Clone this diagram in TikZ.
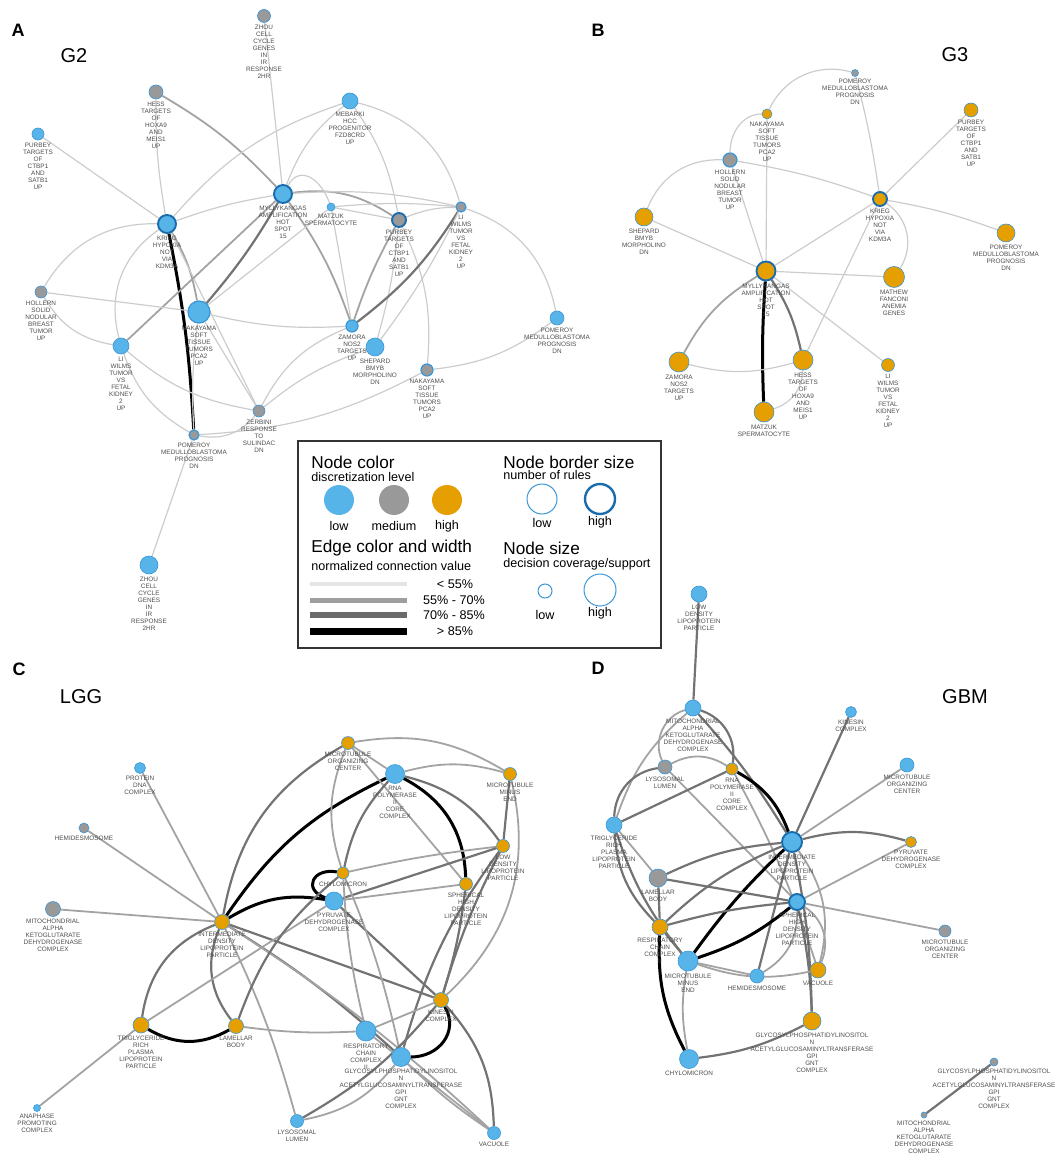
\documentclass[tikz,border=0pt]{standalone}
\usepackage{fontspec}
\setmainfont{Liberation Sans}
\usetikzlibrary{positioning}
\pgfdeclarelayer{background}
\pgfsetlayers{background,main}
\definecolor{lowblue}{HTML}{56B4E9}
\definecolor{midgray}{HTML}{999999}
\definecolor{highorange}{HTML}{E69F00}
\definecolor{rimblue}{HTML}{3A96D6}
\definecolor{rimdark}{HTML}{1A6DAD}
\definecolor{lbltext}{HTML}{4D4D4D}
\definecolor{edgelight}{HTML}{CCCCCC}
\definecolor{edgemid}{HTML}{A3A3A3}
\definecolor{edgedark}{HTML}{737373}
\newcommand{\lblfont}{\fontsize{3.2}{3.5}\selectfont}
% vertex with its label underneath
\newcommand{\vnode}[5]{%
  \node (#1) at (#2) [vtx,#3,minimum size=#4pt] {};
  \node (#1_l) [lbl,below=1pt of #1] {#5};}
\tikzset{
  vtx/.style={circle,inner sep=0pt,draw=rimblue,line width=0.3pt},
  lo/.style={fill=lowblue}, me/.style={fill=midgray}, hi/.style={fill=highorange},
  rim2/.style={draw=rimblue,line width=0.6pt},
  rim3/.style={draw=rimdark,line width=0.95pt},
  lbl/.style={font=\lblfont,text=lbltext,align=center,inner sep=0pt},
  e1/.style={draw=edgelight,line width=0.6pt},
  e2/.style={draw=edgemid,line width=0.9pt},
  e3/.style={draw=edgedark,line width=1.1pt},
  e4/.style={draw=black,line width=1.5pt},
  panel/.style={font=\bfseries\fontsize{9}{10}\selectfont,inner sep=0pt},
  cohort/.style={font=\fontsize{10}{12}\selectfont,inner sep=0pt},
  lgtitle/.style={font=\fontsize{8.6}{10}\selectfont,anchor=west,inner sep=0pt},
  lgsub/.style={font=\fontsize{6.3}{7.5}\selectfont,anchor=west,inner sep=0pt},
  lgtext/.style={font=\fontsize{6.3}{7.5}\selectfont,inner sep=0pt},
}
\begin{document}
\begin{tikzpicture}[x=0.5pt,y=-0.5pt,line cap=round]
\useasboundingbox (0,0) rectangle (1056,1154);
%% panel A
\node[panel] (A_tag) at (18,30) {A};
\node[cohort] (A_name) at (74,56) {G2};
\vnode{a_zhou1}{264,16}{me}{6.5}{ZHOU\\CELL\\CYCLE\\GENES\\IN\\IR\\RESPONSE\\2HR}
\vnode{a_hess}{156,92}{me}{7}{HESS\\TARGETS\\OF\\HOXA9\\AND\\MEIS1\\UP}
\vnode{a_purbey1}{38,134}{lo}{6}{PURBEY\\TARGETS\\OF\\CTBP1\\AND\\SATB1\\UP}
\vnode{a_mebarki}{350,101}{lo}{8}{MEBARKI\\HCC\\PROGENITOR\\FZD8CRD\\UP}
\vnode{a_mylly}{283,194}{lo,rim3}{9}{MYLLYKANGAS\\AMPLIFICATION\\HOT\\SPOT\\15}
\vnode{a_krieg}{167,224}{lo,rim3}{9}{KRIEG\\HYPOXIA\\NOT\\VIA\\KDM3A}
\vnode{a_matzuk}{331,207}{lo}{4}{MATZUK\\SPERMATOCYTE}
\vnode{a_purbey2}{399,220}{me,rim3}{7}{PURBEY\\TARGETS\\OF\\CTBP1\\AND\\SATB1\\UP}
\vnode{a_li1}{461,207}{me,rim2}{5}{LI\\WILMS\\TUMOR\\VS\\FETAL\\KIDNEY\\2\\UP}
\vnode{a_hollern}{41,292}{me}{6}{HOLLERN\\SOLID\\NODULAR\\BREAST\\TUMOR\\UP}
\vnode{a_nakayama1}{199,312}{lo,rim2}{11}{NAKAYAMA\\SOFT\\TISSUE\\TUMORS\\PCA2\\UP}
\vnode{a_li2}{121,346}{lo}{8}{LI\\WILMS\\TUMOR\\VS\\FETAL\\KIDNEY\\2\\UP}
\vnode{a_zamora}{352,326}{lo,rim2}{6}{ZAMORA\\NOS2\\TARGETS\\UP}
\vnode{a_shepard}{375,347}{lo}{9}{SHEPARD\\BMYB\\MORPHOLINO\\DN}
\vnode{a_nakayama2}{427,370}{me,rim2}{6}{NAKAYAMA\\SOFT\\TISSUE\\TUMORS\\PCA2\\UP}
\vnode{a_pomeroy1}{557,318}{lo}{7}{POMEROY\\MEDULLOBLASTOMA\\PROGNOSIS\\DN}
\vnode{a_zerbini}{259,411}{me}{6}{ZERBINI\\RESPONSE\\TO\\SULINDAC\\DN}
\vnode{a_pomeroy2}{194,435}{me,rim2}{5}{POMEROY\\MEDULLOBLASTOMA\\PROGNOSIS\\DN}
\vnode{a_zhou2}{149,565}{lo}{9}{ZHOU\\CELL\\CYCLE\\GENES\\IN\\IR\\RESPONSE\\2HR}
\begin{pgfonlayer}{background}
\draw[e1] (a_zhou1) -- (a_mylly);
\draw[e2] (a_hess) to[bend left=8] (a_mylly);
\draw[e1] (a_hess) to[bend right=5] (a_krieg);
\draw[e1] (a_purbey1) -- (a_krieg);
\draw[e1] (a_krieg) to[bend left=5] (a_mylly);
\draw[e1] (a_krieg) to[bend left=15] (a_mebarki);
\draw[e4] (a_krieg) to[bend left=4] (a_pomeroy2);
\draw[e1] (a_krieg) to[bend right=30] (a_hollern);
\draw[e1] (a_krieg) to[bend right=35] (a_li2);
\draw[e2] (a_krieg) to[bend left=10] (a_nakayama1);
\draw[e1] (a_krieg) -- (a_zerbini);
\draw[e3] (a_mylly) to[bend left=5] (a_nakayama1);
\draw[e2] (a_mylly) -- (a_li2);
\draw[e2] (a_mylly) to[bend left=20] (a_purbey2);
\draw[e2] (a_mylly) to[bend left=8] (a_zamora);
\draw[e1] (a_mylly) to[bend left=15] (a_mebarki);
\draw[e1] (a_mylly) to[out=60,in=110,looseness=1.4] (a_matzuk);
\draw[e1] (a_mylly) to[bend left=8] (a_li1);
\draw[e1] (a_mebarki) to[bend left=12] (a_purbey2);
\draw[e1] (a_mebarki) to[bend left=30] (a_li1);
\draw[e1] (a_matzuk) -- (a_nakayama1);
\draw[e1] (a_matzuk) -- (a_purbey2);
\draw[e1] (a_matzuk) to[bend left=5] (a_li1);
\draw[e1] (a_matzuk) -- (a_zamora);
\draw[e1] (a_purbey2) to[bend left=10] (a_li1);
\draw[e2] (a_purbey2) to[bend right=5] (a_zamora);
\draw[e1] (a_purbey2) to[bend left=5] (a_shepard);
\draw[e1] (a_purbey2) to[bend left=15] (a_nakayama2);
\draw[e3] (a_li1) to[bend left=10] (a_zamora);
\draw[e1] (a_li1) to[bend left=30] (a_pomeroy1);
\draw[e1] (a_li1) to[bend left=5] (a_shepard);
\draw[e1] (a_hollern) -- (a_nakayama1);
\draw[e1] (a_hollern) to[bend right=25] (a_li2);
\draw[e1] (a_nakayama1) to[bend right=8] (a_zamora);
\draw[e1] (a_nakayama1) to[bend right=5] (a_pomeroy2);
\draw[e1] (a_nakayama1) -- (a_zerbini);
\draw[e1] (a_li2) to[bend right=15] (a_zerbini);
\draw[e1] (a_li2) to[bend right=20] (a_pomeroy2);
\draw[e1] (a_zerbini) to[bend left=30] (a_pomeroy2);
\draw[e1] (a_zerbini) to[bend left=20] (a_zamora);
\draw[e1] (a_zerbini) to[bend left=10] (a_shepard);
\draw[e1] (a_pomeroy2) -- (a_zhou2);
\draw[e1] (a_pomeroy2) to[bend right=12] (a_nakayama2);
\draw[e1] (a_nakayama2) to[bend right=15] (a_pomeroy1);
\end{pgfonlayer}
%% panel B
\node[panel] (B_tag) at (598,30) {B};
\node[cohort] (B_name) at (955,55) {G3};
\vnode{b_pom1}{855,73}{me}{3.5}{POMEROY\\MEDULLOBLASTOMA\\PROGNOSIS\\DN}
\vnode{b_nak}{767,114}{hi}{5}{NAKAYAMA\\SOFT\\TISSUE\\TUMORS\\PCA2\\UP}
\vnode{b_hollern}{730,160}{me,rim2}{7}{HOLLERN\\SOLID\\NODULAR\\BREAST\\TUMOR\\UP}
\vnode{b_purbey}{971,110}{hi}{7}{PURBEY\\TARGETS\\OF\\CTBP1\\AND\\SATB1\\UP}
\vnode{b_shepard}{644,217}{hi}{9}{SHEPARD\\BMYB\\MORPHOLINO\\DN}
\vnode{b_krieg}{880,199}{hi,rim3}{7}{KRIEG\\HYPOXIA\\NOT\\VIA\\KDM3A}
\vnode{b_pom2}{1006,233}{hi}{9}{POMEROY\\MEDULLOBLASTOMA\\PROGNOSIS\\DN}
\vnode{b_mylly}{766,271}{hi,rim3}{9.5}{MYLLYKANGAS\\AMPLIFICATION\\HOT\\SPOT\\15}
\vnode{b_mathew}{894,277}{hi}{10.5}{MATHEW\\FANCONI\\ANEMIA\\GENES}
\vnode{b_zamora}{679,362}{hi}{10}{ZAMORA\\NOS2\\TARGETS\\UP}
\vnode{b_hess}{803,360}{hi}{10}{HESS\\TARGETS\\OF\\HOXA9\\AND\\MEIS1\\UP}
\vnode{b_li}{888,365}{hi}{6.5}{LI\\WILMS\\TUMOR\\VS\\FETAL\\KIDNEY\\2\\UP}
\vnode{b_matzuk}{764,412}{hi}{10}{MATZUK\\SPERMATOCYTE}
\begin{pgfonlayer}{background}
\draw[e1] (b_pom1) to[bend right=40] (b_nak);
\draw[e1] (b_nak) to[out=180,in=90] (b_hollern);
\draw[e1] (b_pom1) to[bend left=3] (b_krieg);
\draw[e1] (b_hollern) to[bend left=5] (b_krieg);
\draw[e1] (b_hollern) to[bend right=35] (b_shepard);
\draw[e1] (b_hollern) -- (b_mylly);
\draw[e1] (b_nak) -- (b_mylly);
\draw[e1] (b_krieg) -- (b_purbey);
\draw[e1] (b_krieg) to[bend left=5] (b_pom2);
\draw[e1] (b_krieg) -- (b_mylly);
\draw[e1] (b_krieg) to[bend left=45] (b_mathew);
\draw[e1] (b_krieg) -- (b_hess);
\draw[e1] (b_shepard) -- (b_mylly);
\draw[e1] (b_mylly) -- (b_mathew);
\draw[e2] (b_mylly) to[bend right=15] (b_zamora);
\draw[e3] (b_mylly) to[bend left=10] (b_hess);
\draw[e4] (b_mylly) to[bend right=3] (b_matzuk);
\draw[e1] (b_mylly) -- (b_li);
\draw[e1] (b_zamora) to[bend right=15] (b_hess);
\draw[e1] (b_matzuk) to[bend right=35] (b_hess);
\end{pgfonlayer}
%% legend
\draw[line width=0.7pt,draw=black!80] (298,441) rectangle (661,648);
\node[lgtitle] (lg_col) at (311,462) {Node color};
\node[lgsub] (lg_cols) at (311,477) {discretization level};
\node[vtx,lo,draw=none,minimum size=15pt] (lg_lo) at (339,500) {};
\node[vtx,me,draw=none,minimum size=15pt] (lg_me) at (394,500) {};
\node[vtx,hi,draw=none,minimum size=15pt] (lg_hi) at (447,500) {};
\node[lgtext] (lg_lo_t) at (339,526) {low};
\node[lgtext] (lg_me_t) at (394,526) {medium};
\node[lgtext] (lg_hi_t) at (447,526) {high};
\node[lgtitle] (lg_edge) at (311,548) {Edge color and width};
\node[lgsub] (lg_edges) at (311,566) {normalized connection value};
\draw[draw=black!10,line width=2pt,line cap=butt] (310,584) -- (407,584);
\draw[draw=black!38,line width=2.5pt,line cap=butt] (310,600) -- (407,600);
\draw[draw=black!58,line width=2.75pt,line cap=butt] (310,615) -- (407,615);
\draw[draw=black,line width=3.5pt,line cap=butt] (310,631) -- (407,631);
\node[lgtext] (lg_w1) at (455,584) {< 55\%};
\node[lgtext] (lg_w2) at (454,600) {55\% - 70\%};
\node[lgtext] (lg_w3) at (454,615) {70\% - 85\%};
\node[lgtext] (lg_w4) at (455,631) {> 85\%};
\node[lgtitle] (lg_rim) at (503,462) {Node border size};
\node[lgsub] (lg_rims) at (503,475) {number of rules};
\node[circle,inner sep=0pt,draw=rimblue,line width=0.5pt,minimum size=15pt] (lg_rlo) at (542,499) {};
\node[circle,inner sep=0pt,draw=rimdark,line width=1.2pt,minimum size=15pt] (lg_rhi) at (600,499) {};
\node[lgtext] (lg_rlo_t) at (542,523) {low};
\node[lgtext] (lg_rhi_t) at (600,522) {high};
\node[lgtitle] (lg_size) at (503,548) {Node size};
\node[lgsub] (lg_sizes) at (503,564) {decision coverage/support};
\node[circle,inner sep=0pt,draw=rimblue,line width=0.5pt,minimum size=7pt] (lg_slo) at (545,591) {};
\node[circle,inner sep=0pt,draw=rimblue,line width=0.5pt,minimum size=16pt] (lg_shi) at (600,590) {};
\node[lgtext] (lg_slo_t) at (545,615) {low};
\node[lgtext] (lg_shi_t) at (600,613) {high};
%% panel C
\node[panel] (C_tag) at (19,669) {C};
\node[cohort] (C_name) at (81,697) {LGG};
\vnode{c_mtoc}{348,743}{hi}{6.5}{MICROTUBULE\\ORGANIZING\\CENTER}
\vnode{c_prot}{140,768}{lo}{5.5}{PROTEIN\\DNA\\COMPLEX}
\vnode{c_rna}{395,774}{lo}{9.5}{RNA\\POLYMERASE\\II\\CORE\\COMPLEX}
\vnode{c_mend}{510,774}{hi}{6.5}{MICROTUBULE\\MINUS\\END}
\vnode{c_hemi}{84,828}{me}{5}{HEMIDESMOSOME}
\vnode{c_ldl}{503,846}{hi}{6.5}{LOW\\DENSITY\\LIPOPROTEIN\\PARTICLE}
\vnode{c_chylo}{343,873}{hi}{6}{CHYLOMICRON}
\vnode{c_sph}{466,884}{hi}{6.5}{SPHERICAL\\HIGH\\DENSITY\\LIPOPROTEIN\\PARTICLE}
\vnode{c_pyr}{334,901}{lo}{9}{PYRUVATE\\DEHYDROGENASE\\COMPLEX}
\vnode{c_mito}{53,909}{me}{7.5}{MITOCHONDRIAL\\ALPHA\\KETOGLUTARATE\\DEHYDROGENASE\\COMPLEX}
\vnode{c_idl}{222,922}{hi}{7.5}{INTERMEDIATE\\DENSITY\\LIPOPROTEIN\\PARTICLE}
\vnode{c_kin}{441,1000}{hi}{7.5}{KINESIN\\COMPLEX}
\vnode{c_tri}{141,1025}{hi}{8}{TRIGLYCERIDE\\RICH\\PLASMA\\LIPOPROTEIN\\PARTICLE}
\vnode{c_lam}{236,1026}{hi}{7.5}{LAMELLAR\\BODY}
\vnode{c_resp}{366,1031}{lo}{10}{RESPIRATORY\\CHAIN\\COMPLEX\\II}
\vnode{c_gpi}{401,1057}{lo}{9.5}{GLYCOSYLPHOSPHATIDYLINOSITOL\\N\\ACETYLGLUCOSAMINYLTRANSFERASE\\GPI\\GNT\\COMPLEX}
\vnode{c_ana}{37,1108}{lo}{3.5}{ANAPHASE\\PROMOTING\\COMPLEX}
\vnode{c_lyso}{297,1121}{lo}{6.5}{LYSOSOMAL\\LUMEN}
\vnode{c_vac}{494,1133}{lo}{6.5}{VACUOLE}
\begin{pgfonlayer}{background}
\draw[e2] (c_prot) -- (c_idl);
\draw[e2] (c_hemi) -- (c_idl);
\draw[e2] (c_mito) -- (c_idl);
\draw[e2] (c_ana) -- (c_tri);
\draw[e4] (c_idl) to[bend left=15] (c_rna);
\draw[e3] (c_idl) to[bend left=25] (c_mtoc);
\draw[e4] (c_idl) to[bend left=20] (c_pyr);
\draw[e4] (c_chylo) to[out=170,in=160,looseness=2.2] (c_pyr);
\draw[e3] (c_idl) -- (c_kin);
\draw[e3] (c_idl) to[bend right=30] (c_tri);
\draw[e3] (c_idl) to[bend right=30] (c_lam);
\draw[e2] (c_idl) to[bend left=5] (c_lyso);
\draw[e3] (c_idl) to[bend left=5] (c_gpi);
\draw[e2] (c_idl) to[bend left=5] (c_vac);
\draw[e4] (c_tri) to[bend right=30] (c_lam);
\draw[e2] (c_tri) -- (c_pyr);
\draw[e3] (c_lam) to[bend left=15] (c_chylo);
\draw[e2] (c_lam) to[bend right=5] (c_resp);
\draw[e2] (c_mtoc) -- (c_rna);
\draw[e2] (c_mtoc) to[bend left=20] (c_mend);
\draw[e2] (c_mtoc) to[bend right=20] (c_chylo);
\draw[e2] (c_mtoc) -- (c_sph);
\draw[e4] (c_rna) to[bend left=30] (c_sph);
\draw[e3] (c_rna) to[bend left=20] (c_ldl);
\draw[e3] (c_rna) to[bend right=15] (c_chylo);
\draw[e2] (c_rna) to[bend left=15] (c_mend);
\draw[e2] (c_mend) to[bend left=30] (c_kin);
\draw[e3] (c_mend) -- (c_ldl);
\draw[e2] (c_ldl) to[bend right=3] (c_chylo);
\draw[e3] (c_ldl) -- (c_pyr);
\draw[e3] (c_ldl) to[bend right=5] (c_kin);
\draw[e3] (c_ldl) to[bend right=10] (c_gpi);
\draw[e2] (c_sph) -- (c_pyr);
\draw[e3] (c_sph) to[bend left=5] (c_kin);
\draw[e3] (c_pyr) -- (c_kin);
\draw[e2] (c_chylo) to[bend right=5] (c_resp);
\draw[e2] (c_chylo) to[bend left=5] (c_gpi);
\draw[e2] (c_kin) -- (c_resp);
\draw[e4] (c_kin) to[out=-60,in=0,looseness=1.2] (c_gpi);
\draw[e3] (c_kin) to[bend left=20] (c_vac);
\draw[e3] (c_kin) to[bend left=10] (c_lyso);
\draw[e2] (c_resp) -- (c_vac);
\draw[e2] (c_gpi) to[bend left=20] (c_lyso);
\draw[e2] (c_gpi) to[bend right=5] (c_vac);
\end{pgfonlayer}
%% panel D
\node[panel] (D_tag) at (598,668) {D};
\node[cohort] (D_name) at (965,697) {GBM};
\vnode{d_ldl}{699,594}{lo}{8}{LOW\\DENSITY\\LIPOPROTEIN\\PARTICLE}
\vnode{d_mito}{693,708}{lo}{8}{MITOCHONDRIAL\\ALPHA\\KETOGLUTARATE\\DEHYDROGENASE\\COMPLEX}
\vnode{d_kin}{851,712}{lo}{5.5}{KINESIN\\COMPLEX}
\vnode{d_mtoc1}{907,765}{lo}{7}{MICROTUBULE\\ORGANIZING\\CENTER}
\vnode{d_lyso}{665,767}{me}{7}{LYSOSOMAL\\LUMEN}
\vnode{d_rna}{732,769}{hi}{6}{RNA\\POLYMERASE\\II\\CORE\\COMPLEX}
\vnode{d_tri}{614,825}{lo}{8}{TRIGLYCERIDE\\RICH\\PLASMA\\LIPOPROTEIN\\PARTICLE}
\vnode{d_idl}{792,842}{lo,rim3}{10}{INTERMEDIATE\\DENSITY\\LIPOPROTEIN\\PARTICLE}
\vnode{d_pyr}{911,842}{hi}{5.5}{PYRUVATE\\DEHYDROGENASE\\COMPLEX}
\vnode{d_lam}{658,878}{me}{9}{LAMELLAR\\BODY}
\vnode{d_sph}{797,902}{lo,rim3}{8}{SPHERICAL\\HIGH\\DENSITY\\LIPOPROTEIN\\PARTICLE}
\vnode{d_mtoc2}{945,931}{me}{6}{MICROTUBULE\\ORGANIZING\\CENTER}
\vnode{d_resp}{660,927}{hi}{8}{RESPIRATORY\\CHAIN\\COMPLEX\\II}
\vnode{d_mend}{688,961}{lo}{10}{MICROTUBULE\\MINUS\\END}
\vnode{d_hemi}{757,976}{lo}{7}{HEMIDESMOSOME}
\vnode{d_vac}{818,970}{hi}{8}{VACUOLE}
\vnode{d_gpi}{812,1021}{hi}{9}{GLYCOSYLPHOSPHATIDYLINOSITOL\\N\\ACETYLGLUCOSAMINYLTRANSFERASE\\GPI\\GNT\\COMPLEX}
\vnode{d_chylo}{689,1059}{lo}{9.5}{CHYLOMICRON}
\vnode{d_gpi2}{994,1062}{me}{4}{GLYCOSYLPHOSPHATIDYLINOSITOL\\N\\ACETYLGLUCOSAMINYLTRANSFERASE\\GPI\\GNT\\COMPLEX}
\vnode{d_mito2}{924,1115}{me}{3}{MITOCHONDRIAL\\ALPHA\\KETOGLUTARATE\\DEHYDROGENASE\\COMPLEX}
\begin{pgfonlayer}{background}
\draw[e3] (d_ldl) -- (d_mito);
\draw[e2] (d_mito) to[bend right=50] (d_lyso);
\draw[e3] (d_mito) to[bend left=40] (d_rna);
\draw[e3] (d_mito) to[bend left=5] (d_idl);
\draw[e2] (d_mito) to[bend right=15] (d_tri);
\draw[e2] (d_lyso) to[bend left=30] (d_rna);
\draw[e3] (d_lyso) to[bend right=40] (d_tri);
\draw[e2] (d_lyso) -- (d_sph);
\draw[e3] (d_rna) -- (d_tri);
\draw[e4] (d_rna) to[bend left=20] (d_idl);
\draw[e2] (d_rna) to[bend left=5] (d_vac);
\draw[e3] (d_kin) -- (d_idl);
\draw[e2] (d_mtoc1) -- (d_idl);
\draw[e3] (d_idl) to[bend left=15] (d_pyr);
\draw[e3] (d_idl) to[bend right=10] (d_lam);
\draw[e3] (d_idl) to[bend right=10] (d_resp);
\draw[e4] (d_idl) to[bend right=5] (d_mend);
\draw[e3] (d_idl) -- (d_hemi);
\draw[e3] (d_idl) to[bend left=5] (d_gpi);
\draw[e2] (d_idl) to[bend left=25] (d_vac);
\draw[e2] (d_pyr) -- (d_sph);
\draw[e3] (d_lam) -- (d_sph);
\draw[e2] (d_lam) -- (d_tri);
\draw[e3] (d_lam) -- (d_resp);
\draw[e3] (d_sph) to[bend right=5] (d_resp);
\draw[e4] (d_sph) to[bend left=10] (d_mend);
\draw[e2] (d_sph) -- (d_mtoc2);
\draw[e2] (d_sph) to[bend left=30] (d_hemi);
\draw[e3] (d_sph) to[bend left=5] (d_gpi);
\draw[e2] (d_sph) to[bend left=40] (d_vac);
\draw[e3] (d_tri) to[bend right=20] (d_resp);
\draw[e3] (d_tri) to[bend right=10] (d_mend);
\draw[e4] (d_resp) to[bend right=15] (d_chylo);
\draw[e3] (d_resp) -- (d_mend);
\draw[e2] (d_mend) to[bend right=15] (d_vac);
\draw[e2] (d_mend) -- (d_hemi);
\draw[e2] (d_mend) to[bend right=10] (d_chylo);
\draw[e3] (d_chylo) to[bend right=10] (d_gpi);
\draw[e3] (d_gpi2) -- (d_mito2);
\end{pgfonlayer}
\end{tikzpicture}
\end{document}
